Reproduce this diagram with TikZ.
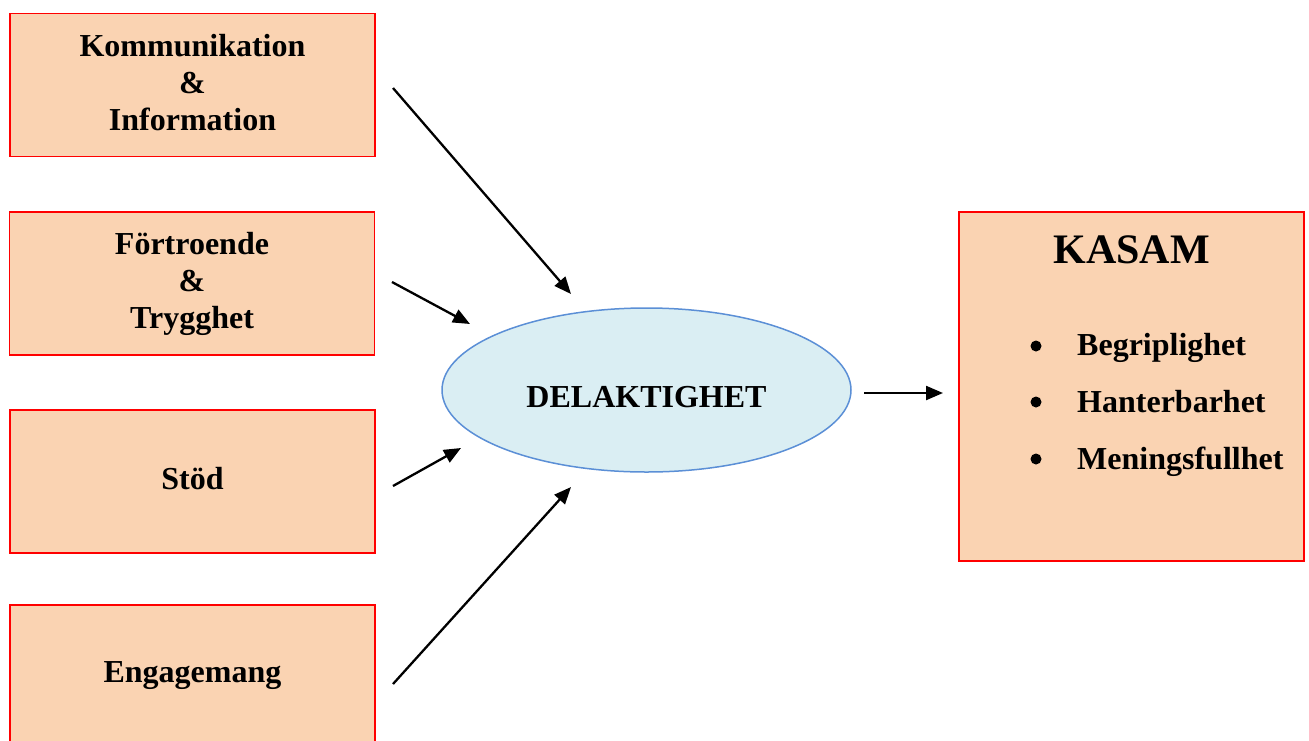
\documentclass[tikz,border=0pt]{standalone}
\usepackage{fontspec}
\setmainfont{Liberation Serif}
\usetikzlibrary{arrows.meta,shapes.geometric}
\definecolor{peach}{HTML}{FAD3B2}
\definecolor{boxred}{HTML}{FF0000}
\definecolor{lightblue}{HTML}{DAEEF3}
\definecolor{ellblue}{HTML}{5B8FD6}
\tikzset{
  factorbox/.style={draw=boxred, line width=1.8pt, fill=peach, minimum width=365pt, minimum height=143pt, inner sep=0pt},
  boxtext/.style={align=center, inner sep=0pt, font=\fontsize{32}{37}\selectfont\bfseries},
  kasambox/.style={draw=boxred, line width=1.8pt, fill=peach, minimum width=345pt, minimum height=349pt, inner sep=0pt},
  centerell/.style={draw=ellblue, line width=1.5pt, fill=lightblue, ellipse, minimum width=409pt, minimum height=164pt, inner sep=0pt},
  flow/.style={-{Triangle[length=17pt,width=14pt]}, line width=2.3pt, black},
  bodytext/.style={font=\fontsize{32}{37}\selectfont\bfseries, inner sep=0pt, anchor=base west},
  dot/.style={circle, fill=black, inner sep=0pt, minimum size=11pt},
}
\begin{document}
\begin{tikzpicture}[x=1pt,y=-1pt]
\useasboundingbox (0,0) rectangle (1309,740);
\node[factorbox] (k) at (192.5,85) {};
\node[boxtext] (kt) at (192.5,83) {Kommunikation\\\&\\Information};
\node[factorbox] (f) at (192,283.5) {};
\node[boxtext] (ft) at (192,284) {Förtroende\\\&\\Trygghet};
\node[factorbox] (s) at (192.5,481.5) {};
\node[boxtext] (st) at (192.5,478.5) {Stöd};
\node[factorbox, minimum height=150pt] (e) at (192.5,680) {};
\node[boxtext] (et) at (192.5,676) {Engagemang};
\node[centerell] (d) at (646.5,390) {};
\node[boxtext] (dt) at (646.5,397) {DELAKTIGHET};
\node[kasambox] (m) at (1131.5,386.5) {};
\node[font=\fontsize{42}{48}\selectfont\bfseries, inner sep=0pt, anchor=base] (mt) at (1131.5,263) {KASAM};
\node[dot] (b1) at (1036,346) {};
\node[dot] (b2) at (1036,402) {};
\node[dot] (b3) at (1036,459) {};
\node[bodytext] (t1) at (1077,355) {Begriplighet};
\node[bodytext] (t2) at (1077,412) {Hanterbarhet};
\node[bodytext] (t3) at (1077,469) {Meningsfullhet};
\coordinate (a1s) at (393,88);  \coordinate (a1e) at (571,294);
\coordinate (a2s) at (392,282); \coordinate (a2e) at (470,324);
\coordinate (a3s) at (393,486); \coordinate (a3e) at (461,448);
\coordinate (a4s) at (393,684); \coordinate (a4e) at (571,487);
\coordinate (a5s) at (864,393); \coordinate (a5e) at (943,393);
\draw[flow] (a1s) -- (a1e);
\draw[flow] (a2s) -- (a2e);
\draw[flow] (a3s) -- (a3e);
\draw[flow] (a4s) -- (a4e);
\draw[flow] (a5s) -- (a5e);
\end{tikzpicture}
\end{document}
